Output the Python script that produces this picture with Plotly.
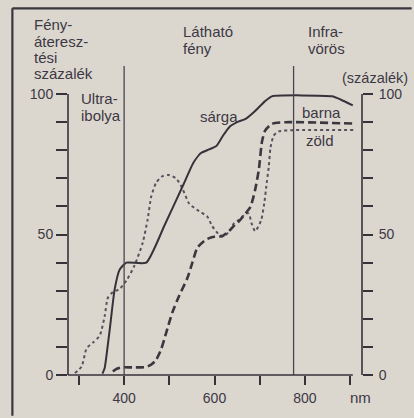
import plotly.graph_objects as go

# ---------------- data ----------------
sarga_nm = [352, 357, 368, 379, 390, 405, 449, 490, 529, 553, 570, 588, 604, 618, 633, 650, 669, 690, 712, 727, 860, 880, 906]
sarga_pct = [0.5, 2.5, 16, 30.5, 37.5, 40, 40, 53.5, 67, 75.5, 79, 80.3, 81.5, 85, 88.3, 90, 91.2, 94, 97.5, 99.2, 99.2, 98, 96]

zold_nm = [291, 306, 317, 331, 346, 357, 364, 375, 390, 405, 423, 441, 452, 460, 471, 485, 498, 515, 529, 544,
           566, 584, 595, 610, 621, 632, 643, 654, 670, 676, 682, 690, 703, 710, 716, 720, 724, 731, 742, 780, 907]
zold_pct = [0.7, 3, 9.5, 11.5, 14, 21, 27.5, 29.5, 30.6, 33.6, 39, 47, 55.3, 63.5, 68.5, 70.8, 71.2, 70, 66.4, 61,
            58.3, 56.4, 53, 50, 49.4, 51, 54, 55.3, 57.5, 57.5, 54, 51.2, 55, 61, 69, 74, 81, 85.2, 86.7, 87.2, 87.2]

barna_nm = [375, 385, 394, 420, 445, 458, 470, 482, 493, 507, 522, 540, 551, 562, 581, 599, 617, 632, 645, 654,
            672, 680, 690, 698, 705, 712, 727, 756, 907]
barna_pct = [1.3, 2.3, 2.7, 2.7, 2.8, 3.5, 5.2, 9.2, 15, 22.4, 28.3, 34.5, 40, 45.3, 48.2, 49.2, 49.4, 51.2, 53.5, 54.7,
             58.2, 60, 66, 73, 83, 87, 89.4, 90, 89.5]

x_tick_vals = [300, 400, 500, 600, 700, 800, 900]
x_tick_text = ["", "400", "", "600", "", "800", ""]
y_tick_vals = [0, 10, 20, 30, 40, 50, 60, 70, 80, 90, 100]
y_tick_text = ["0", "", "", "", "", "50", "", "", "", "", "100"]
uv_limit = 400
ir_limit = 775
axis_x_start = 275.8
axis_x_end = 906

# ---------------- layout helpers ----------------
W, H = 414, 418
L, R, T, B = 68, 50, 66, 41
PW, PH = W - L - R, H - T - B


def px_x(px):  # page pixel -> paper x
    return (px - L) / PW


def px_y(py):  # page pixel -> paper y
    return (H - B - py) / PH


BG = "#dbd7cf"
INK = "#36323a"
TXT = "#3d3844"
FONT = "Liberation Sans, Arial, sans-serif"

fig = go.Figure()
fig.add_trace(go.Scatter(x=zold_nm, y=zold_pct, mode="lines", name="zöld",
                         line=dict(color="#56515c", width=2, dash="dot", shape="spline", smoothing=0.6)))
fig.add_trace(go.Scatter(x=sarga_nm, y=sarga_pct, mode="lines", name="sárga",
                         line=dict(color=INK, width=2, shape="spline", smoothing=0.5)))
fig.add_trace(go.Scatter(x=barna_nm, y=barna_pct, mode="lines", name="barna", yaxis="y2",
                         line=dict(color="#3b373f", width=2.6, dash="8px,4px", shape="spline", smoothing=0.6)))

tickfont = dict(family=FONT, size=14, color=TXT)
fig.update_layout(
    margin=dict(l=L, r=R, t=T, b=B, pad=0),
    paper_bgcolor=BG, plot_bgcolor=BG,
    showlegend=False,
    xaxis=dict(range=[axis_x_start, 926.4], showgrid=False, zeroline=False, showline=False,
               ticks="outside", ticklen=9, tickwidth=1.5, tickcolor=INK,
               tickvals=x_tick_vals, ticktext=x_tick_text, tickfont=tickfont, ticklabelstandoff=1),
    yaxis=dict(range=[0, 110], showgrid=False, zeroline=False, showline=False,
               ticks="outside", ticklen=11, tickwidth=1.5, tickcolor=INK,
               tickvals=y_tick_vals, ticktext=y_tick_text, tickfont=tickfont),
    yaxis2=dict(range=[0, 110], overlaying="y", side="right", showgrid=False, zeroline=False, showline=False,
                ticks="outside", ticklen=10, tickwidth=1.5, tickcolor=INK,
                tickvals=y_tick_vals, ticktext=y_tick_text, tickfont=tickfont, ticklabelstandoff=3),
)

shapes = []
# region boundaries
for xv in (uv_limit, ir_limit):
    shapes.append(dict(type="line", xref="x", yref="y", x0=xv, x1=xv, y0=0, y1=110,
                       line=dict(color="#4a4550", width=1.3)))
# axis lines
shapes.append(dict(type="line", xref="paper", yref="y", x0=0, x1=0, y0=0, y1=100, line=dict(color=INK, width=1.6)))
shapes.append(dict(type="line", xref="paper", yref="y", x0=1, x1=1, y0=0, y1=100, line=dict(color=INK, width=1.6)))
shapes.append(dict(type="line", xref="x", yref="paper", x0=axis_x_start, x1=axis_x_end, y0=0, y1=0,
                   line=dict(color=INK, width=1.6)))
# outer frame (inside the figure)
shapes.append(dict(type="line", xref="paper", yref="paper", x0=px_x(12), x1=px_x(12), y0=px_y(H), y1=px_y(8),
                   line=dict(color="#3a3640", width=2.2)))
shapes.append(dict(type="line", xref="paper", yref="paper", x0=px_x(12), x1=px_x(W), y0=px_y(8), y1=px_y(8),
                   line=dict(color="#3a3640", width=2.4)))
fig.update_layout(shapes=shapes)

labels = [
    ("Fény-", 32, 24, "left", 15),
    ("áteresz-", 32, 41, "left", 15),
    ("tési", 32, 57.5, "left", 15),
    ("százalék", 32, 74, "left", 15),
    ("Ultra-", 79, 99, "left", 15),
    ("ibolya", 79, 116, "left", 15),
    ("Látható", 182, 31, "left", 15),
    ("fény", 182, 48, "left", 15),
    ("Infra-", 308, 31, "left", 15),
    ("vörös", 308, 48, "left", 15),
    ("(százalék)", 377, 78, "center", 14.5),
    ("sárga", 220, 117, "center", 15),
    ("barna", 323, 113, "center", 15),
    ("zöld", 322, 141, "center", 15),
    ("nm", 362, 400, "center", 15),
]
for text, x, y, anchor, size in labels:
    fig.add_annotation(text=text, xref="paper", yref="paper", x=px_x(x), y=px_y(y),
                       xanchor=anchor, yanchor="middle", showarrow=False,
                       font=dict(family=FONT, size=size, color=TXT))

# the figure div is pinned to the window's top-left corner and sized to it
fig.write_html(
    "out.html",
    config={"displayModeBar": False},
    default_width=f"{W}px;position:fixed;left:0;top:0",
    default_height=f"{H}px",
    post_script=(
        "document.documentElement.style.background='" + BG + "';"
        "document.body.style.background='" + BG + "';"
    ),
)
